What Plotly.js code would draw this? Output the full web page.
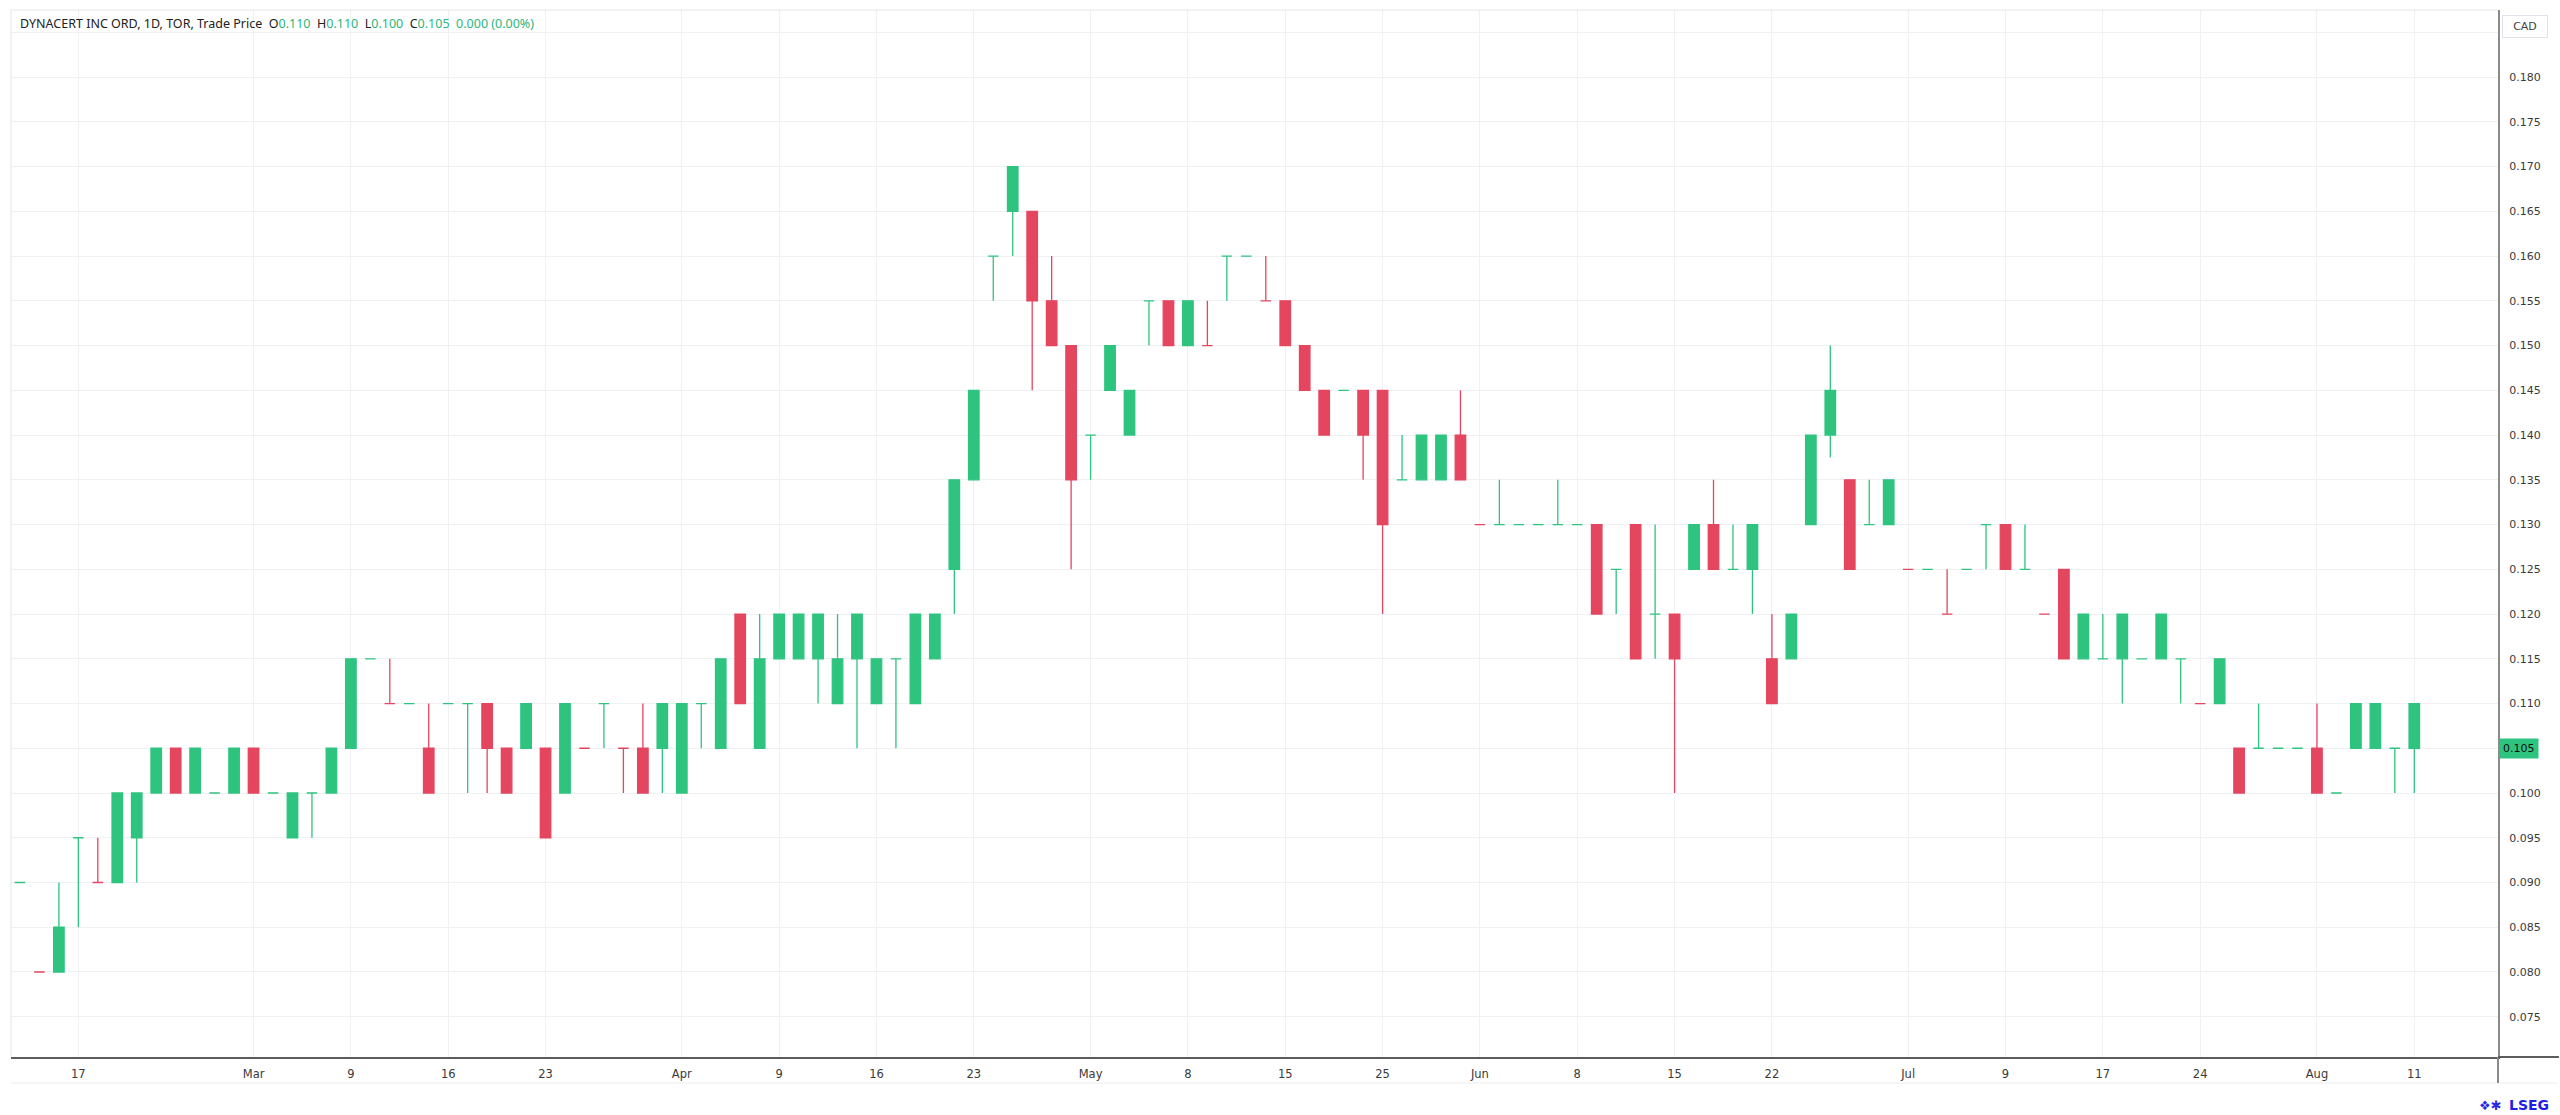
<!DOCTYPE html>
<html>
<head>
<meta charset="utf-8">
<script src="https://cdn.plot.ly/plotly-3.0.1.min.js"></script>
<style>
html,body{margin:0;padding:0;background:#ffffff;}
#chart{width:2560px;height:1115px;}
</style>
</head>
<body>
<div id="chart"></div>
<script>
// ---------- DATA ----------
const instrument = "DYNACERT INC ORD, 1D, TOR, Trade Price";
const currency = "CAD";

const dates = [
 "2026-02-11","2026-02-12","2026-02-13","2026-02-17","2026-02-18","2026-02-19","2026-02-20","2026-02-23","2026-02-24","2026-02-25","2026-02-26","2026-02-27",
 "2026-03-02","2026-03-03","2026-03-04","2026-03-05","2026-03-06","2026-03-09","2026-03-10","2026-03-11","2026-03-12","2026-03-13",
 "2026-03-16","2026-03-17","2026-03-18","2026-03-19","2026-03-20","2026-03-23","2026-03-24","2026-03-25","2026-03-26","2026-03-27","2026-03-30","2026-03-31",
 "2026-04-01","2026-04-02","2026-04-06","2026-04-07","2026-04-08","2026-04-09","2026-04-10","2026-04-13","2026-04-14","2026-04-15","2026-04-16","2026-04-17",
 "2026-04-20","2026-04-21","2026-04-22","2026-04-23","2026-04-24","2026-04-27","2026-04-28","2026-04-29","2026-04-30",
 "2026-05-01","2026-05-04","2026-05-05","2026-05-06","2026-05-07","2026-05-08","2026-05-11","2026-05-12","2026-05-13","2026-05-14","2026-05-15",
 "2026-05-19","2026-05-20","2026-05-21","2026-05-22","2026-05-25","2026-05-26","2026-05-27","2026-05-28","2026-05-29",
 "2026-06-01","2026-06-02","2026-06-03","2026-06-04","2026-06-05","2026-06-08","2026-06-09","2026-06-10","2026-06-11","2026-06-12",
 "2026-06-15","2026-06-16","2026-06-17","2026-06-18","2026-06-19","2026-06-22","2026-06-23","2026-06-24","2026-06-25","2026-06-26","2026-06-29","2026-06-30",
 "2026-07-02","2026-07-03","2026-07-06","2026-07-07","2026-07-08","2026-07-09","2026-07-13","2026-07-14","2026-07-15","2026-07-16","2026-07-17",
 "2026-07-20","2026-07-21","2026-07-22","2026-07-23","2026-07-24","2026-07-27","2026-07-28","2026-07-29","2026-07-30","2026-07-31",
 "2026-08-04","2026-08-05","2026-08-06","2026-08-07","2026-08-10","2026-08-11"
];

const opens = [
 0.090,0.080,0.080,0.095,0.090,0.090,0.095,0.100,0.105,0.100,0.100,0.100,
 0.105,0.100,0.095,0.100,0.100,0.105,0.115,0.110,0.110,0.105,
 0.110,0.110,0.110,0.105,0.105,0.105,0.100,0.105,0.110,0.105,0.105,0.105,
 0.100,0.110,0.105,0.120,0.105,0.115,0.115,0.115,0.110,0.115,0.110,0.115,
 0.110,0.115,0.125,0.135,0.160,0.165,0.165,0.155,0.150,
 0.140,0.145,0.140,0.155,0.155,0.150,0.150,0.160,0.160,0.155,0.155,
 0.150,0.145,0.145,0.145,0.145,0.135,0.135,0.135,0.140,
 0.130,0.130,0.130,0.130,0.130,0.130,0.130,0.125,0.130,0.120,
 0.120,0.125,0.130,0.125,0.125,0.115,0.115,0.130,0.140,0.135,0.130,0.130,
 0.125,0.125,0.120,0.125,0.130,0.130,0.125,0.120,0.125,0.115,0.115,
 0.115,0.115,0.115,0.115,0.110,0.110,0.105,0.105,0.105,0.105,
 0.105,0.100,0.105,0.105,0.105,0.110
];

const highs = [
 0.090,0.080,0.090,0.095,0.095,0.100,0.100,0.105,0.105,0.105,0.100,0.105,
 0.105,0.100,0.100,0.100,0.105,0.115,0.115,0.115,0.110,0.110,
 0.110,0.110,0.110,0.105,0.110,0.105,0.110,0.105,0.110,0.105,0.110,0.110,
 0.110,0.110,0.115,0.120,0.120,0.120,0.120,0.120,0.120,0.120,0.115,0.115,
 0.120,0.120,0.135,0.145,0.160,0.170,0.165,0.160,0.150,
 0.140,0.150,0.145,0.155,0.155,0.155,0.155,0.160,0.160,0.160,0.155,
 0.150,0.145,0.145,0.145,0.145,0.140,0.140,0.140,0.145,
 0.130,0.135,0.130,0.130,0.135,0.130,0.130,0.125,0.130,0.130,
 0.120,0.130,0.135,0.130,0.130,0.120,0.120,0.140,0.150,0.135,0.135,0.135,
 0.125,0.125,0.125,0.125,0.130,0.130,0.130,0.120,0.125,0.120,0.120,
 0.120,0.115,0.120,0.115,0.110,0.115,0.105,0.110,0.105,0.105,
 0.110,0.100,0.110,0.110,0.105,0.110
];

const lows = [
 0.090,0.080,0.080,0.085,0.090,0.090,0.090,0.100,0.100,0.100,0.100,0.100,
 0.100,0.100,0.095,0.095,0.100,0.105,0.115,0.110,0.110,0.100,
 0.110,0.100,0.100,0.100,0.105,0.095,0.100,0.105,0.105,0.100,0.100,0.100,
 0.100,0.105,0.105,0.110,0.105,0.115,0.115,0.110,0.110,0.105,0.110,0.105,
 0.110,0.115,0.120,0.135,0.155,0.160,0.145,0.150,0.125,
 0.135,0.145,0.140,0.150,0.150,0.150,0.150,0.155,0.160,0.155,0.150,
 0.145,0.140,0.145,0.135,0.120,0.135,0.135,0.135,0.135,
 0.130,0.130,0.130,0.130,0.130,0.130,0.120,0.120,0.115,0.115,
 0.100,0.125,0.125,0.125,0.120,0.110,0.115,0.130,0.1375,0.125,0.130,0.130,
 0.125,0.125,0.120,0.125,0.125,0.125,0.125,0.120,0.115,0.115,0.115,
 0.110,0.115,0.115,0.110,0.110,0.110,0.100,0.105,0.105,0.105,
 0.100,0.100,0.105,0.105,0.100,0.100
];

const closes = [
 0.090,0.080,0.085,0.095,0.090,0.100,0.100,0.105,0.100,0.105,0.100,0.105,
 0.100,0.100,0.100,0.100,0.105,0.115,0.115,0.110,0.110,0.100,
 0.110,0.110,0.105,0.100,0.110,0.095,0.110,0.105,0.110,0.105,0.100,0.110,
 0.110,0.110,0.115,0.110,0.115,0.120,0.120,0.120,0.115,0.120,0.115,0.115,
 0.120,0.120,0.135,0.145,0.160,0.170,0.155,0.150,0.135,
 0.140,0.150,0.145,0.155,0.150,0.155,0.150,0.160,0.160,0.155,0.150,
 0.145,0.140,0.145,0.140,0.130,0.135,0.140,0.140,0.135,
 0.130,0.130,0.130,0.130,0.130,0.130,0.120,0.125,0.115,0.120,
 0.115,0.130,0.125,0.125,0.130,0.110,0.120,0.140,0.145,0.125,0.130,0.135,
 0.125,0.125,0.120,0.125,0.130,0.125,0.125,0.120,0.115,0.120,0.115,
 0.120,0.115,0.120,0.115,0.110,0.115,0.100,0.105,0.105,0.105,
 0.100,0.100,0.110,0.110,0.105,0.105
];

// candle colour as drawn in the reference: "u" = green, "d" = red
const candleColor = [
 "u","d","u","u","d","u","u","u","d","u","u","u",
 "d","u","u","u","u","u","u","d","u","d",
 "u","u","d","d","u","d","u","d","u","d","d","u",
 "u","u","u","d","u","u","u","u","u","u","u","u",
 "u","u","u","u","u","u","d","d","d",
 "u","u","u","u","d","u","d","u","u","d","d",
 "d","d","u","d","d","u","u","u","d",
 "d","u","u","u","u","u","d","u","d","u",
 "d","u","d","u","u","d","u","u","u","d","u","u",
 "d","u","d","u","u","d","u","d","d","u","u",
 "u","u","u","u","d","u","d","u","u","u",
 "d","u","u","u","u","u"
];

const tickDates = ["2026-02-17","2026-03-02","2026-03-09","2026-03-16","2026-03-23","2026-04-01","2026-04-09","2026-04-16","2026-04-23",
 "2026-05-01","2026-05-08","2026-05-15","2026-05-25","2026-06-01","2026-06-08","2026-06-15","2026-06-22","2026-07-02","2026-07-09",
 "2026-07-17","2026-07-24","2026-08-04","2026-08-11"];
const tickLabels = ["17","Mar","9","16","23","Apr","9","16","23","May","8","15","25","Jun","8","15","22","Jul","9","17","24","Aug","11"];

const priceTicks = [0.075,0.080,0.085,0.090,0.095,0.100,0.105,0.110,0.115,0.120,0.125,0.130,0.135,0.140,0.145,0.150,0.155,0.160,0.165,0.170,0.175,0.180,0.185];
const priceTickLabels = ["0.075","0.080","0.085","0.090","0.095","0.100","0.105","0.110","0.115","0.120","0.125","0.130","0.135","0.140","0.145","0.150","0.155","0.160","0.165","0.170","0.175","0.180",""];

// ---------- STYLE ----------
const GREEN = "#2ec47f";
const RED = "#e5465f";
const TXT = "#3a3a3a";

function pick(arr, c){ return arr.filter((v,i)=>candleColor[i]===c); }

function candleTrace(c, col){
  return {
    type:"candlestick",
    x: pick(dates,c), open: pick(opens,c), high: pick(highs,c), low: pick(lows,c), close: pick(closes,c),
    increasing:{line:{color:col,width:1.3}, fillcolor:col},
    decreasing:{line:{color:col,width:1.3}, fillcolor:col},
    whiskerwidth:0,
    hoverinfo:"skip",
    showlegend:false
  };
}

const n = dates.length;
const lastO = opens[n-1], lastH = highs[n-1], lastL = lows[n-1], lastC = closes[n-1];
const chg = lastC - closes[n-2];
const chgPct = chg / closes[n-2] * 100;
const gv = s => '<span style="color:#2bb67c">' + s + '</span>';
const headerText = instrument + '  O' + gv(lastO.toFixed(3)) + '  H' + gv(lastH.toFixed(3)) +
  '  L' + gv(lastL.toFixed(3)) + '  C' + gv(lastC.toFixed(3)) + '  ' + gv(chg.toFixed(3) + ' (' + chgPct.toFixed(2) + '%)');

// the last-price box sits on top of its own tick label, so that tick label is left blank
const shownTickLabels = priceTickLabels.map((t,i)=> Math.abs(priceTicks[i]-lastC) < 1e-9 ? "" : t);

const H = 1115, mT = 10, mB = 58;
const plotH = H - mT - mB;

const layout = {
  width:2560, height:1115,
  margin:{l:11, r:62, t:mT, b:mB, pad:0},
  paper_bgcolor:"#ffffff", plot_bgcolor:"#ffffff",
  showlegend:false,
  boxmode:"overlay",
  boxgap:0.23,
  dragmode:false,
  xaxis:{
    type:"category", categoryorder:"array", categoryarray:dates,
    range:[-0.46, 127.3],
    rangeslider:{visible:false},
    tickmode:"array", tickvals:tickDates, ticktext:tickLabels,
    showgrid:true, gridcolor:"#f0f1f3", gridwidth:1,
    showline:true, linecolor:"#5c5c5c", linewidth:2,
    ticks:"", ticklabelstandoff:5,
    tickfont:{family:"DejaVu Sans", size:11.5, color:TXT},
    zeroline:false, fixedrange:true
  },
  yaxis:{
    side:"right",
    range:[0.0705, 0.1875],
    tickmode:"array", tickvals:priceTicks, ticktext:shownTickLabels,
    showgrid:true, gridcolor:"#f0f1f3", gridwidth:1,
    showline:true, linecolor:"#8a8a8a", linewidth:2,
    ticks:"", ticklabelstandoff:7,
    tickfont:{family:"DejaVu Sans", size:11, color:TXT},
    zeroline:false, fixedrange:true
  },
  shapes:[
    {type:"line", xref:"paper", yref:"paper", x0:0, x1:0, y0:0, y1:1, line:{color:"#e6e6e6", width:1}},
    {type:"line", xref:"paper", yref:"paper", x0:0, x1:1, y0:1, y1:1, line:{color:"#e6e6e6", width:1}},
    {type:"line", xref:"paper", yref:"paper", x0:0, x1:1.024, y0:-26/plotH, y1:-26/plotH, line:{color:"#ececec", width:1}},
    {type:"line", xref:"paper", yref:"paper", x0:1, x1:1, y0:-26/plotH, y1:0, line:{color:"#8a8a8a", width:2}},
    {type:"line", xref:"paper", yref:"paper", x0:1, x1:1.0245, y0:0, y1:0, line:{color:"#5c5c5c", width:2}}
  ],
  annotations:[
    {xref:"paper", yref:"paper", x:0, y:1, xanchor:"left", yanchor:"middle", xshift:7, yshift:-13,
     text:headerText, showarrow:false, align:"left",
     font:{family:"Noto Sans", size:12.5, color:"#222222"}},
    {xref:"paper", yref:"paper", x:1, y:1, xanchor:"left", yanchor:"middle", xshift:4, yshift:-16,
     text:currency, showarrow:false, bordercolor:"#e0e3eb", borderwidth:1, borderpad:4, bgcolor:"#ffffff",
     width:36, font:{family:"DejaVu Sans", size:11, color:"#444"}},
    {xref:"paper", yref:"y", x:1, y:lastC, xanchor:"left", yanchor:"middle", xshift:1,
     text:lastC.toFixed(3), showarrow:false, bgcolor:GREEN, borderpad:3,
     font:{family:"DejaVu Sans", size:11, color:"#111111"}},
    {xref:"paper", yref:"paper", x:1, y:0, xanchor:"left", yanchor:"middle", xshift:9, yshift:-48,
     text:"<b>LSEG</b>", showarrow:false,
     font:{family:"DejaVu Sans", size:14, color:"#1f1fe6"}},
    {xref:"paper", yref:"paper", x:1, y:0, xanchor:"right", yanchor:"middle", xshift:6, yshift:-48,
     text:"<b>❖✱</b>", showarrow:false,
     font:{family:"DejaVu Sans", size:13, color:"#2a2ae0"}}
  ]
};

Plotly.newPlot("chart", [candleTrace("u", GREEN), candleTrace("d", RED)], layout, {staticPlot:true, displayModeBar:false});
</script>
</body>
</html>
